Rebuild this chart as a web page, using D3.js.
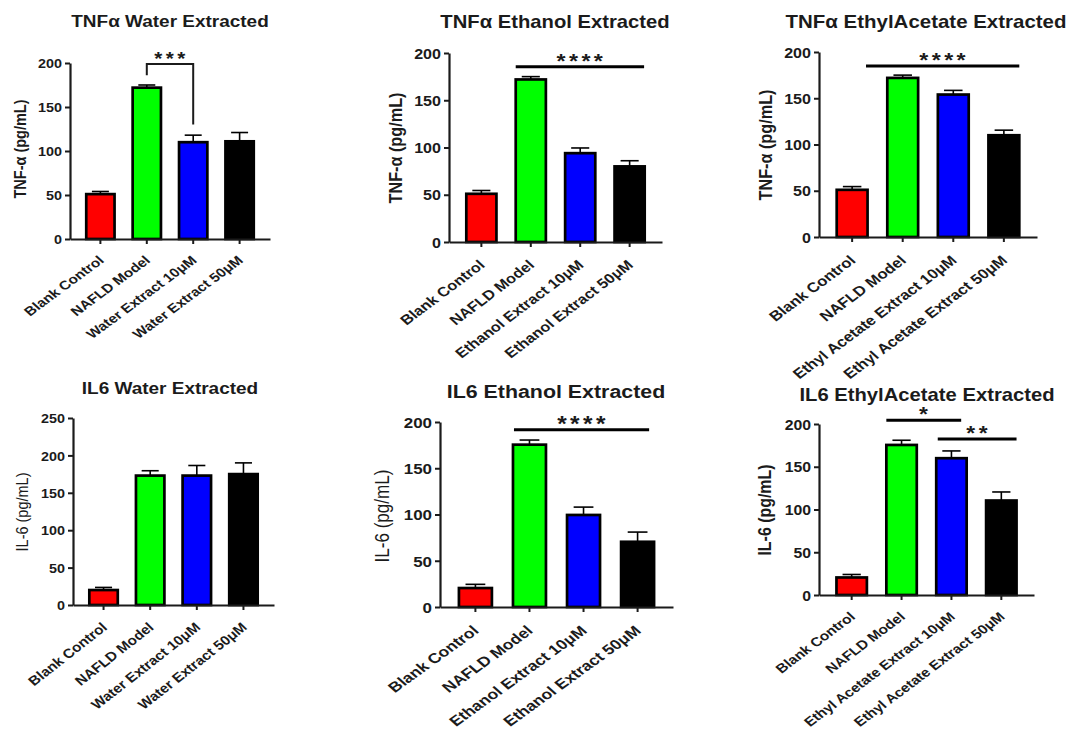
<!DOCTYPE html>
<html><head><meta charset="utf-8">
<script src="https://cdn.jsdelivr.net/npm/d3@7"></script>
<style>body{margin:0;background:#fff}svg{display:block}</style>
</head><body>
<svg id="c" width="1070" height="730"></svg>
<script>
// ---------- DATA ----------
const categoriesWater   = ["Blank Control","NAFLD Model","Water Extract 10μM","Water Extract 50μM"];
const categoriesEthanol = ["Blank Control","NAFLD Model","Ethanol Extract 10μM","Ethanol Extract 50μM"];
const categoriesEA      = ["Blank Control","NAFLD Model","Ethyl Acetate Extract 10μM","Ethyl Acetate Extract 50μM"];

const tnfWater        = [51, 172, 110, 111];
const tnfWaterErr     = [3, 3, 8, 10];
const tnfEthanol      = [51, 172, 94, 80];
const tnfEthanolErr   = [3.5, 3, 5.5, 6];
const tnfEA           = [51, 172, 154, 110];
const tnfEAErr        = [3.5, 3, 4.5, 5.5];
const il6Water        = [20, 173, 173, 175];
const il6WaterErr     = [3.5, 6.5, 13.5, 15];
const il6Ethanol      = [20.5, 175.5, 99.5, 70.5];
const il6EthanolErr   = [4, 5, 8.5, 10.5];
const il6EA           = [20.5, 175.5, 160, 110.5];
const il6EAErr        = [3.5, 5.5, 8.5, 10];

const tnfTicks  = [0, 50, 100, 150, 200];
const il6TicksW = [0, 50, 100, 150, 200, 250];
const il6Ticks  = [0, 50, 100, 150, 200];

const titles  = ["TNFα Water Extracted","TNFα Ethanol Extracted","TNFα EthylAcetate Extracted",
                 "IL6 Water Extracted","IL6 Ethanol Extracted","IL6 EthylAcetate Extracted"];
const yLabels = ["TNF-α (pg/mL)","TNF-α (pg/mL)","TNF-α (pg/mL)","IL-6 (pg/mL)","IL-6 (pg/mL)","IL-6 (pg/mL)"];
const barColors = ["#ff0000","#00ff00","#0000ff","#000000"];

// significance annotations: bars from..to (fractional band positions), level in data units
const sigTNFWater   = [{type:"bracket", from:1, to:2, top:199, legFrom:186, legTo:130, label:"***"}];
const sigTNFEthanol = [{type:"line", from:1.0, to:3.98, level:185.5, label:"****"}];
const sigTNFEA      = [{type:"line", from:0.95, to:4.0, level:185, label:"****"}];
const sigIL6Water   = [];
const sigIL6Ethanol = [{type:"line", from:1.03, to:3.85, level:191.5, label:"****"}];
const sigIL6EA      = [{type:"line", from:1.0, to:2.82, level:204.5, label:"*"},
                       {type:"line", from:2.05, to:4.0, level:182.5, label:"**"}];

// ---------- LAYOUT ----------
const SX = 1.15;
const ROT = -42;
const FONT = "'Liberation Sans', Arial, Helvetica, sans-serif";
const INK = "#1b1b1b";
const layout = [
  {x0:70,  x1:270,  y0:239, y1:63,  tx:170, ty:27,  lx:20,  ly:149, k:1.00, tfs:16.5, xfs:12.6, xsx:1.22, lw:"bold"},
  {x0:449, x1:662,  y0:242, y1:53,  tx:555, ty:28,  lx:395, ly:148, k:1.12, tfs:17.6, xfs:13.6, xsx:1.20, lw:"bold"},
  {x0:819, x1:1037, y0:237, y1:52,  tx:926, ty:28,  lx:765, ly:145, k:1.12, tfs:17.8, xfs:13.8, xsx:1.21, lw:"bold"},
  {x0:73,  x1:274,  y0:605, y1:418, tx:170, ty:394, lx:22,  ly:512, k:1.00, tfs:16.5, xfs:13.2, xsx:1.15, lw:"normal"},
  {x0:440, x1:673,  y0:607, y1:422, tx:556, ty:398, lx:382, ly:516, k:1.18, tfs:18.6, xfs:14.0, xsx:1.25, lw:"normal"},
  {x0:819, x1:1034, y0:595, y1:424, tx:927, ty:401, lx:765, ly:510, k:1.10, tfs:17.6, xfs:12.8, xsx:1.20, lw:"bold"},
];

const panels = [
  {cats:categoriesWater,   vals:tnfWater,   errs:tnfWaterErr,   ticks:tnfTicks,  sig:sigTNFWater},
  {cats:categoriesEthanol, vals:tnfEthanol, errs:tnfEthanolErr, ticks:tnfTicks,  sig:sigTNFEthanol},
  {cats:categoriesEA,      vals:tnfEA,      errs:tnfEAErr,      ticks:tnfTicks,  sig:sigTNFEA},
  {cats:categoriesWater,   vals:il6Water,   errs:il6WaterErr,   ticks:il6TicksW, sig:sigIL6Water},
  {cats:categoriesEthanol, vals:il6Ethanol, errs:il6EthanolErr, ticks:il6Ticks,  sig:sigIL6Ethanol},
  {cats:categoriesEA,      vals:il6EA,      errs:il6EAErr,      ticks:il6Ticks,  sig:sigIL6EA},
];

const svg = d3.select("#c");

panels.forEach((p, i) => {
  const L = layout[i];
  const g = svg.append("g");
  const yMax = d3.max(p.ticks);
  const x = d3.scaleBand().domain(p.cats).range([L.x0, L.x1]).paddingInner(0.39).paddingOuter(0.35);
  const y = d3.scaleLinear().domain([0, yMax]).range([L.y0, L.y1]);
  const bw = x.bandwidth();
  const cx = c => x(c) + bw / 2;

  // bars
  g.selectAll("rect.bar").data(p.cats).join("rect")
    .attr("x", c => x(c)).attr("width", bw)
    .attr("y", (c, j) => y(p.vals[j])).attr("height", (c, j) => y(0) - y(p.vals[j]))
    .attr("fill", (c, j) => barColors[j]).attr("stroke", "#000").attr("stroke-width", 2.7);

  // error bars (upper only)
  g.selectAll("line.err").data(p.cats).join("line")
    .attr("x1", cx).attr("x2", cx)
    .attr("y1", (c, j) => y(p.vals[j])).attr("y2", (c, j) => y(p.vals[j] + p.errs[j]))
    .attr("stroke", "#000").attr("stroke-width", 1.6);
  g.selectAll("line.cap").data(p.cats).join("line")
    .attr("x1", c => cx(c) - bw * 0.3).attr("x2", c => cx(c) + bw * 0.3)
    .attr("y1", (c, j) => y(p.vals[j] + p.errs[j])).attr("y2", (c, j) => y(p.vals[j] + p.errs[j]))
    .attr("stroke", "#000").attr("stroke-width", 1.6);

  // y axis
  const ya = g.append("g").attr("transform", `translate(${L.x0},0)`)
    .call(d3.axisLeft(y).tickValues(p.ticks).tickSize(5).tickSizeOuter(0).tickPadding(2));
  ya.select(".domain").attr("stroke", INK).attr("stroke-width", 2.2);
  ya.selectAll(".tick line").attr("stroke", INK).attr("stroke-width", 2);
  ya.selectAll(".tick text")
    .attr("x", null).attr("dy", null)
    .attr("transform", `translate(-8,${4.6 * L.k}) scale(${SX},1)`)
    .attr("font-family", FONT).attr("font-weight", "bold").attr("font-size", 12.5 * L.k)
    .attr("fill", INK);

  // x axis
  const xa = g.append("g").attr("transform", `translate(0,${L.y0})`)
    .call(d3.axisBottom(x).tickSize(5).tickSizeOuter(0).tickPadding(3));
  xa.select(".domain").attr("stroke", INK).attr("stroke-width", 2.2);
  xa.selectAll(".tick line").attr("stroke", INK).attr("stroke-width", 2);
  xa.selectAll(".tick text")
    .attr("y", null).attr("dy", null)
    .attr("text-anchor", "end")
    .attr("transform", `translate(4.5,${1.78 * L.xfs}) scale(${L.xsx},1) rotate(${ROT})`)
    .attr("font-family", FONT).attr("font-weight", "bold").attr("font-size", L.xfs)
    .attr("fill", INK);

  // title
  g.append("text").text(titles[i])
    .attr("transform", `translate(${L.tx},${L.ty}) scale(${SX},1)`)
    .attr("text-anchor", "middle").attr("font-family", FONT).attr("font-weight", "bold")
    .attr("font-size", L.tfs).attr("fill", INK);

  // y label
  g.append("text").text(yLabels[i])
    .attr("transform", `translate(${L.lx},${L.ly}) scale(${SX},1) rotate(-90)`)
    .attr("text-anchor", "middle").attr("dy", "0.35em")
    .attr("font-family", FONT).attr("font-weight", L.lw).attr("font-size", 14.5 * L.k)
    .attr("fill", INK);

  // significance
  const pos = f => {
    const j = Math.floor(f);
    if (j >= p.cats.length) return x(p.cats[p.cats.length - 1]) + bw * (f - p.cats.length + 1);
    return x(p.cats[j]) + (f - j) * bw;
  };
  p.sig.forEach(s => {
    let midX, topY;
    if (s.type === "bracket") {
      const xa1 = cx(p.cats[s.from]), xb1 = cx(p.cats[s.to]);
      topY = y(s.top);
      g.append("path")
        .attr("d", `M${xa1},${y(s.legFrom)}V${topY}H${xb1}V${y(s.legTo)}`)
        .attr("fill", "none").attr("stroke", INK).attr("stroke-width", 2);
      midX = (xa1 + xb1) / 2;
    } else {
      const xs = pos(s.from), xe = pos(s.to);
      topY = y(s.level);
      g.append("line").attr("x1", xs).attr("x2", xe).attr("y1", topY).attr("y2", topY)
        .attr("stroke", "#000").attr("stroke-width", 3);
      midX = (xs + xe) / 2;
    }
    g.append("text").text(s.label)
      .attr("transform", `translate(${midX + 1.5},${topY + 1 * L.k}) scale(${SX},1)`)
      .attr("text-anchor", "middle").attr("letter-spacing", "3px")
      .attr("font-family", FONT).attr("font-weight", "bold").attr("font-size", 18 * L.k)
      .attr("fill", INK);
  });
});
</script>
</body></html>
